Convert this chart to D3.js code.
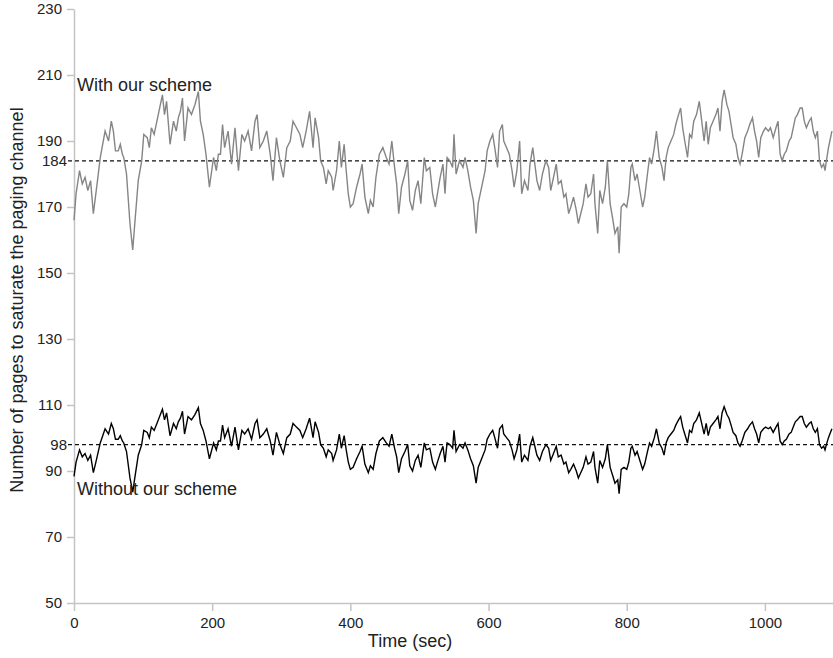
<!DOCTYPE html>
<html>
<head>
<meta charset="utf-8">
<script src="https://cdn.jsdelivr.net/npm/d3@7"></script>
<style>
  body { margin: 0; background: #fff; }
  text { font-family: "Liberation Sans", Arial, sans-serif; }
</style>
</head>
<body>
<svg id="chart" width="833" height="658"></svg>
<script>
// time (sec) of each reading
const times = [
  0,3,8,12,16,20,24,28,31,34,
  38,45,50,54,57,60,64,67,70,72,
  76,81,85,88,93,98,101,106,109,112,
  116,120,125,128,131,134,139,144,148,151,
  154,157,160,165,170,175,180,183,187,191,
  196,202,206,209,212,215,218,223,228,233,
  238,243,247,252,257,262,265,269,274,279,
  284,288,293,298,303,308,313,317,322,327,
  331,336,341,346,349,354,357,361,365,368,
  373,375,380,384,387,391,394,397,400,404,
  409,414,417,421,426,429,433,437,442,447,
  452,456,460,464,467,470,474,479,483,486,
  490,494,498,502,507,510,515,519,523,526,
  530,534,537,540,544,548,550,553,558,563,
  566,570,574,578,582,585,590,595,598,602,
  606,609,613,616,620,622,626,630,634,637,
  641,645,648,652,657,660,664,667,670,674,
  678,683,687,690,694,698,701,705,709,712,
  716,719,723,727,730,737,741,744,748,752,
  754,758,761,765,769,772,776,780,783,787,
  789,792,796,800,803,806,808,812,815,819,
  823,826,830,833,836,840,843,847,851,854,
  857,860,864,868,871,875,878,881,884,888,
  891,894,897,901,905,908,912,915,918,921,
  925,929,932,935,938,941,945,948,951,954,
  958,961,964,967,971,975,978,982,985,988,
  991,994,998,1001,1005,1008,1012,1016,1019,1022,
  1025,1028,1031,1035,1038,1041,1044,1047,1051,1054,
  1057,1060,1064,1067,1070,1073,1076,1079,1082,1085,
  1087,1089,1092,1094,1097
];
// "With our scheme" (grey line)
const withScheme = [
  166,174,181,177,179,175,178,168,173,178,
  185,193,190,196,193,187,187,189,186,185,
  180,165,157,165,178,184,192,191,188,194,
  192,196,201,204,198,202,189,196,193,197,
  199,203,190,200,198,201,205,196,192,186,
  176,185,181,186,186,195,188,193,183,194,
  181,192,190,193,187,196,198,188,190,193,
  186,178,191,184,179,188,190,196,194,192,
  188,193,199,188,197,191,184,182,177,181,
  179,175,181,190,182,189,181,174,170,171,
  176,180,183,173,168,172,170,179,186,188,
  185,183,190,182,177,168,176,180,184,172,
  169,175,178,171,185,181,182,174,170,174,
  179,183,174,185,184,182,192,180,184,182,
  185,181,176,172,162,171,176,181,187,190,
  192,188,182,193,195,190,188,186,181,176,
  181,190,174,178,175,183,188,183,178,175,
  180,184,182,175,179,183,177,178,173,174,
  168,170,173,169,165,171,177,173,174,180,
  171,162,175,171,176,184,171,166,162,164,
  156,170,171,170,174,182,183,178,180,175,
  170,173,180,185,183,188,193,185,182,178,
  185,188,190,192,195,198,200,194,190,185,
  192,191,196,198,202,197,190,196,189,194,
  196,198,200,193,202,205.5,201,199,195,191,
  189,185,183,186,191,193,195,197,193,190,
  185,191,193,194,193,194,191,194,196,186,
  184,186,187,190,191,194,197,198,200,200,
  196,194,196,197,193,191,193,184,182,183,
  181,184,188,190,193
];
// "Without our scheme" (black line)
const withoutScheme = [
  88.4,92.7,96.4,94.3,95.3,93.2,94.8,89.5,92.1,94.8,
  98.5,102.8,101.2,104.4,102.8,99.6,99.6,100.7,99.1,98.5,
  95.9,87.9,83.6,87.9,94.8,98.0,102.3,101.7,100.1,103.3,
  102.3,104.4,107.1,108.7,105.5,107.6,100.7,104.4,102.8,104.9,
  106.0,108.1,101.2,106.5,105.5,107.1,109.2,104.4,102.3,99.1,
  93.7,98.5,96.4,99.1,99.1,103.9,100.1,102.8,97.5,103.3,
  96.4,102.3,101.2,102.8,99.6,104.4,105.5,100.1,101.2,102.8,
  99.1,94.8,101.7,98.0,95.3,100.1,101.2,104.4,103.3,102.3,
  100.1,102.8,106.0,100.1,104.9,101.7,98.0,96.9,94.3,96.4,
  95.3,93.2,96.4,101.2,96.9,100.7,96.4,92.7,90.5,91.1,
  93.7,95.9,97.5,92.1,89.5,91.6,90.5,95.3,99.1,100.1,
  98.5,97.5,101.2,96.9,94.3,89.5,93.7,95.9,98.0,91.6,
  90.0,93.2,94.8,91.1,98.5,96.4,96.9,92.7,90.5,92.7,
  95.3,97.5,92.7,98.5,98.0,96.9,102.3,95.9,98.0,96.9,
  98.5,96.4,93.7,91.6,86.3,91.1,93.7,96.4,99.6,101.2,
  102.3,100.1,96.9,102.8,103.9,101.2,100.1,99.1,96.4,93.7,
  96.4,101.2,92.7,94.8,93.2,97.5,100.1,97.5,94.8,93.2,
  95.9,98.0,96.9,93.2,95.3,97.5,94.3,94.8,92.1,92.7,
  89.5,90.5,92.1,90.0,87.9,91.1,94.3,92.1,92.7,95.9,
  91.1,86.3,93.2,91.1,93.7,98.0,91.1,88.4,86.3,87.3,
  83.1,90.5,91.1,90.5,92.7,96.9,97.5,94.8,95.9,93.2,
  90.5,92.1,95.9,98.5,97.5,100.1,102.8,98.5,96.9,94.8,
  98.5,100.1,101.2,102.3,103.9,105.5,106.5,103.3,101.2,98.5,
  102.3,101.7,104.4,105.5,107.6,104.9,101.2,104.4,100.7,103.3,
  104.4,105.5,106.5,102.8,107.6,109.5,107.1,106.0,103.9,101.7,
  100.7,98.5,97.5,99.1,101.7,102.8,103.9,104.9,102.8,101.2,
  98.5,101.7,102.8,103.3,102.8,103.3,101.7,103.3,104.4,99.1,
  98.0,99.1,99.6,101.2,101.7,103.3,104.9,105.5,106.5,106.5,
  104.4,103.3,104.4,104.9,102.8,101.7,102.8,98.0,96.9,97.5,
  96.4,98.0,100.1,101.2,102.8
];
const xTicks = [0, 200, 400, 600, 800, 1000];
const yTicks = [50, 70, 90, 110, 130, 150, 170, 190, 210, 230];
const avgLines = [184, 98];   // dashed average levels

const svg = d3.select("#chart");
const axisColor = "#c4c4c4";

const x = d3.scaleLinear().domain([0, 1100]).range([74, 834]);
const y = d3.scaleLinear().domain([50, 230]).range([603, 9]);

// x axis
const gx = svg.append("g").attr("transform", `translate(0,${y(50)})`)
  .call(d3.axisBottom(x).tickValues(xTicks).tickFormat(d3.format("d"))
    .tickSize(8).tickPadding(6).tickSizeOuter(0));
// y axis
const gy = svg.append("g").attr("transform", `translate(${x(0)},0)`)
  .call(d3.axisLeft(y).tickValues(yTicks).tickFormat(d3.format("d"))
    .tickSize(7).tickPadding(5).tickSizeOuter(0));

[gx, gy].forEach(g => {
  g.select(".domain").attr("stroke", axisColor).attr("stroke-width", 1.5);
  g.selectAll(".tick line").attr("stroke", axisColor).attr("stroke-width", 1.5);
  g.selectAll(".tick text").attr("fill", "#222").attr("font-size", 15)
    .attr("font-family", "Liberation Sans, Arial, sans-serif");
});

// average lines + their labels
avgLines.forEach(v => {
  svg.append("line")
    .attr("x1", 68).attr("x2", 833)
    .attr("y1", y(v)).attr("y2", y(v))
    .attr("stroke", "#111").attr("stroke-width", 1.3)
    .attr("stroke-dasharray", "4,3");
  svg.append("text")
    .attr("x", 67).attr("y", y(v)).attr("dy", "0.35em")
    .attr("text-anchor", "end").attr("font-size", 15).attr("fill", "#222")
    .text(v);
});

const line = vals => d3.line()
  .x((d, i) => x(times[i]))
  .y(d => y(d))(vals);

svg.append("path").attr("d", line(withScheme))
  .attr("fill", "none").attr("stroke", "#858585").attr("stroke-width", 1.4);
svg.append("path").attr("d", line(withoutScheme))
  .attr("fill", "none").attr("stroke", "#000").attr("stroke-width", 1.4);

// series labels
svg.append("text").attr("x", 77).attr("y", 91)
  .attr("font-size", 18).attr("fill", "#222").text("With our scheme");
svg.append("text").attr("x", 77).attr("y", 495)
  .attr("font-size", 18).attr("fill", "#222").text("Without our scheme");

// axis titles
svg.append("text").attr("x", 410).attr("y", 647)
  .attr("text-anchor", "middle").attr("font-size", 18).attr("fill", "#222")
  .text("Time (sec)");
svg.append("text")
  .attr("transform", "translate(23,300) rotate(-90)")
  .attr("text-anchor", "middle").attr("font-size", 18).attr("fill", "#222")
  .text("Number of pages to saturate the paging channel");
</script>
</body>
</html>
